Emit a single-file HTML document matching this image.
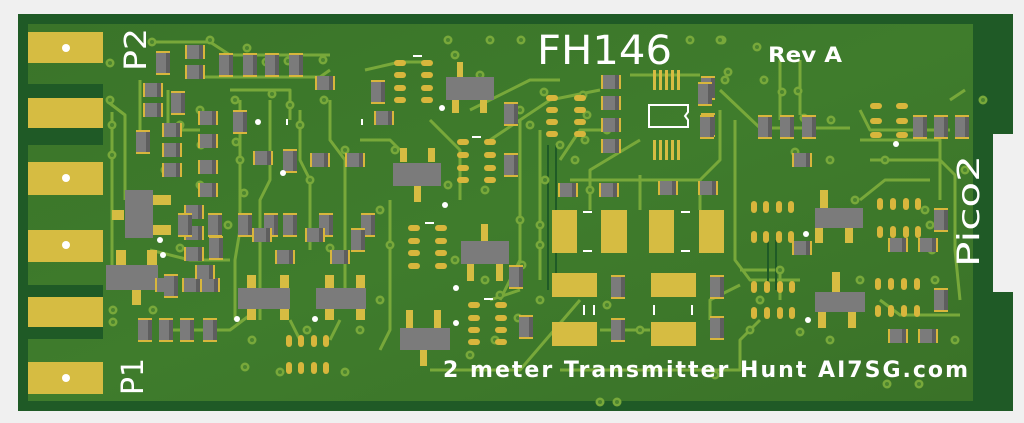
<!DOCTYPE html>
<html><head><meta charset="utf-8"><style>
html,body{margin:0;padding:0;background:#f0f0f0;width:1024px;height:423px;overflow:hidden}
svg{display:block}
.t{font-family:"DejaVu Sans","Liberation Sans",sans-serif;fill:#fff}
</style></head><body>
<svg width="1024" height="423" viewBox="0 0 1024 423" xmlns="http://www.w3.org/2000/svg">
<defs>
<linearGradient id="bg" x1="0" y1="0" x2="1" y2="1">
<stop offset="0" stop-color="#3a7429"/><stop offset="0.5" stop-color="#3f7c2c"/><stop offset="1" stop-color="#3a7228"/></linearGradient>
<g id="rh"><rect x="-10" y="-7" width="20" height="14" fill="#d8b63c"/><rect x="-8" y="-7" width="16" height="14" fill="#7b7b7b"/><rect x="4" y="-7" width="4" height="14" fill="#5e5e5e"/></g>
<g id="rv"><rect x="-7" y="-12" width="14" height="24" fill="#d8b63c"/><rect x="-7" y="-10" width="14" height="20" fill="#7b7b7b"/><rect x="3" y="-10" width="4" height="20" fill="#5e5e5e"/></g>
<g id="v"><circle r="4.5" fill="#78a83a"/><circle r="2" fill="#4c8530"/></g>
<g id="ov"><rect x="-6" y="-3" width="12" height="6" rx="3" fill="#d8b63c"/></g>
<g id="ovv"><rect x="-3" y="-6" width="6" height="12" rx="3" fill="#d8b63c"/></g>
</defs>
<path d="M18 14 H1013 V134 H993 V292 H1013 V411 H18 Z" fill="#1f5a26"/>
<rect x="28" y="24" width="945" height="377" fill="url(#bg)"/>
<rect x="28" y="84" width="75" height="61" fill="#1f5a26"/>
<rect x="28" y="285" width="75" height="54" fill="#1f5a26"/>
<g fill="#d6bc42">
<rect x="28" y="32" width="75" height="31"/>
<rect x="28" y="98" width="75" height="30"/>
<rect x="28" y="162" width="75" height="33"/>
<rect x="28" y="230" width="75" height="32"/>
<rect x="28" y="297" width="75" height="30"/>
<rect x="28" y="362" width="75" height="32"/>
</g>
<g fill="#fff"><circle cx="66" cy="48" r="4"/><circle cx="66" cy="178" r="4"/><circle cx="66" cy="245" r="4"/><circle cx="66" cy="378" r="4"/></g>
<g stroke="#78a83a" stroke-width="3" fill="none" stroke-linejoin="round">
<path d="M150 42 H210 L230 55 H330"/>
<path d="M205 77 H320 L330 70"/>
<path d="M108 102 L125 115 V200"/>
<path d="M112 112 V270"/>
<path d="M140 80 V140"/>
<path d="M168 90 V130 H200"/>
<path d="M230 90 H290 V120"/>
<path d="M270 100 V180 L260 200 V320"/>
<path d="M240 100 V230 L235 260 V320"/>
<path d="M300 110 V160 L310 180 V250"/>
<path d="M330 100 V140 L345 160 V290"/>
<path d="M365 70 L400 62 H430"/>
<path d="M360 140 H390 L400 150"/>
<path d="M390 200 V330 L380 350"/>
<path d="M430 120 L460 150 V200"/>
<path d="M470 110 L530 80 H560"/>
<path d="M490 140 L550 100 L600 90"/>
<path d="M520 120 V260 L500 300"/>
<path d="M540 130 V280"/>
<path d="M560 160 L580 130 H620"/>
<path d="M570 180 H700 L720 160 V110"/>
<path d="M590 210 V170 L640 140"/>
<path d="M640 210 V175"/>
<path d="M700 210 V180"/>
<path d="M720 90 L760 128 H850"/>
<path d="M735 120 V260 L750 280 H800"/>
<path d="M780 60 V120"/>
<path d="M800 60 V115"/>
<path d="M860 110 L870 130 H950"/>
<path d="M860 140 H940 V200"/>
<path d="M870 160 H940 L955 175 V250 L960 300"/>
<path d="M740 270 H780 V300"/>
<path d="M760 320 L740 340 V370 L560 370"/>
<path d="M430 370 L520 370 L580 300"/>
<path d="M600 330 H650"/>
<path d="M710 320 V300 L740 285"/>
<path d="M150 250 L190 260 H230"/>
<path d="M160 330 H230 L250 315"/>
<path d="M290 320 L300 340"/>
<path d="M340 320 L330 340"/>
<path d="M860 200 L885 180 H930"/>
<path d="M880 300 L900 315 H960"/>
<path d="M950 100 L965 90"/>
<path d="M630 75 H700"/>
<path d="M490 300 L520 290"/>
</g>
<g stroke="#1f5a26" stroke-width="2" fill="none">
<path d="M548 145 V290"/><path d="M556 145 V290"/><path d="M768 240 V290"/><path d="M776 240 V290"/>
</g>
<g>
<use href="#v" x="110" y="63"/><use href="#v" x="152" y="42"/><use href="#v" x="210" y="40"/><use href="#v" x="247" y="48"/><use href="#v" x="266" y="62"/>
<use href="#v" x="288" y="61"/><use href="#v" x="323" y="60"/><use href="#v" x="110" y="100"/><use href="#v" x="112" y="125"/><use href="#v" x="112" y="155"/>
<use href="#v" x="200" y="110"/><use href="#v" x="180" y="125"/><use href="#v" x="235" y="100"/><use href="#v" x="272" y="94"/><use href="#v" x="290" y="105"/>
<use href="#v" x="236" y="142"/><use href="#v" x="201" y="145"/><use href="#v" x="240" y="160"/><use href="#v" x="300" y="125"/><use href="#v" x="324" y="100"/>
<use href="#v" x="200" y="185"/><use href="#v" x="228" y="225"/><use href="#v" x="244" y="193"/><use href="#v" x="310" y="180"/><use href="#v" x="345" y="150"/>
<use href="#v" x="380" y="210"/><use href="#v" x="390" y="245"/><use href="#v" x="380" y="300"/><use href="#v" x="360" y="330"/><use href="#v" x="330" y="248"/>
<use href="#v" x="252" y="340"/><use href="#v" x="307" y="330"/><use href="#v" x="345" y="372"/><use href="#v" x="280" y="372"/><use href="#v" x="245" y="367"/>
<use href="#v" x="113" y="310"/><use href="#v" x="113" y="322"/><use href="#v" x="153" y="310"/><use href="#v" x="180" y="248"/><use href="#v" x="165" y="170"/>
<use href="#v" x="448" y="40"/><use href="#v" x="490" y="40"/><use href="#v" x="521" y="40"/><use href="#v" x="690" y="40"/><use href="#v" x="722" y="40"/>
<use href="#v" x="544" y="92"/><use href="#v" x="520" y="110"/><use href="#v" x="530" y="125"/><use href="#v" x="560" y="145"/><use href="#v" x="575" y="160"/>
<use href="#v" x="607" y="130"/><use href="#v" x="615" y="80"/><use href="#v" x="587" y="115"/><use href="#v" x="583" y="95"/><use href="#v" x="590" y="190"/>
<use href="#v" x="545" y="180"/><use href="#v" x="520" y="220"/><use href="#v" x="540" y="225"/><use href="#v" x="522" y="265"/><use href="#v" x="540" y="245"/>
<use href="#v" x="500" y="295"/><use href="#v" x="518" y="318"/><use href="#v" x="495" y="340"/><use href="#v" x="585" y="140"/><use href="#v" x="728" y="72"/>
<use href="#v" x="757" y="47"/><use href="#v" x="720" y="40"/><use href="#v" x="725" y="80"/><use href="#v" x="764" y="80"/><use href="#v" x="782" y="92"/>
<use href="#v" x="798" y="91"/><use href="#v" x="804" y="118"/><use href="#v" x="831" y="120"/><use href="#v" x="795" y="152"/><use href="#v" x="830" y="160"/>
<use href="#v" x="885" y="160"/><use href="#v" x="855" y="200"/><use href="#v" x="925" y="210"/><use href="#v" x="932" y="250"/><use href="#v" x="935" y="280"/>
<use href="#v" x="940" y="300"/><use href="#v" x="955" y="340"/><use href="#v" x="983" y="100"/><use href="#v" x="965" y="170"/><use href="#v" x="930" y="225"/>
<use href="#v" x="860" y="280"/><use href="#v" x="760" y="300"/><use href="#v" x="780" y="270"/><use href="#v" x="800" y="332"/><use href="#v" x="830" y="340"/>
<use href="#v" x="750" y="330"/><use href="#v" x="715" y="375"/><use href="#v" x="718" y="280"/><use href="#v" x="607" y="305"/><use href="#v" x="640" y="330"/>
<use href="#v" x="690" y="330"/><use href="#v" x="600" y="402"/><use href="#v" x="617" y="402"/><use href="#v" x="887" y="384"/><use href="#v" x="919" y="384"/>
<use href="#v" x="455" y="55"/><use href="#v" x="480" y="75"/><use href="#v" x="395" y="150"/><use href="#v" x="448" y="185"/><use href="#v" x="485" y="190"/>
<use href="#v" x="455" y="260"/><use href="#v" x="485" y="280"/><use href="#v" x="540" y="300"/><use href="#v" x="470" y="355"/><use href="#v" x="560" y="290"/>
</g>
<g fill="#d6bc42">
<rect x="552" y="210" width="25" height="43"/><rect x="601" y="210" width="26" height="43"/><rect x="649" y="210" width="25" height="43"/><rect x="699" y="210" width="25" height="43"/>
<rect x="552" y="273" width="45" height="24"/><rect x="552" y="322" width="45" height="24"/><rect x="651" y="273" width="45" height="24"/><rect x="651" y="322" width="45" height="24"/>
</g>
<g>
<rect x="457" y="62" width="6" height="20" fill="#d6bc42"/><rect x="452" y="99" width="7" height="14" fill="#d6bc42"/><rect x="480" y="99" width="7" height="14" fill="#d6bc42"/>
<rect x="446" y="77" width="48" height="23" fill="#7b7b7b"/>
<rect x="400" y="148" width="7" height="14" fill="#d6bc42"/><rect x="428" y="148" width="7" height="14" fill="#d6bc42"/><rect x="414" y="186" width="7" height="16" fill="#d6bc42"/>
<rect x="393" y="163" width="48" height="23" fill="#7b7b7b"/>
<rect x="481" y="224" width="7" height="17" fill="#d6bc42"/><rect x="467" y="264" width="7" height="17" fill="#d6bc42"/><rect x="496" y="264" width="7" height="17" fill="#d6bc42"/>
<rect x="461" y="241" width="48" height="23" fill="#7b7b7b"/>
<rect x="406" y="310" width="7" height="18" fill="#d6bc42"/><rect x="434" y="310" width="7" height="18" fill="#d6bc42"/><rect x="420" y="350" width="7" height="16" fill="#d6bc42"/>
<rect x="400" y="328" width="50" height="22" fill="#7b7b7b"/>
<rect x="247" y="275" width="9" height="14" fill="#d6bc42"/><rect x="280" y="275" width="9" height="14" fill="#d6bc42"/><rect x="247" y="308" width="9" height="12" fill="#d6bc42"/><rect x="280" y="308" width="9" height="12" fill="#d6bc42"/>
<rect x="238" y="288" width="52" height="21" fill="#7b7b7b"/>
<rect x="325" y="275" width="9" height="14" fill="#d6bc42"/><rect x="356" y="275" width="9" height="14" fill="#d6bc42"/><rect x="325" y="308" width="9" height="12" fill="#d6bc42"/><rect x="356" y="308" width="9" height="12" fill="#d6bc42"/>
<rect x="316" y="288" width="50" height="21" fill="#7b7b7b"/>
<rect x="116" y="250" width="10" height="15" fill="#d6bc42"/><rect x="147" y="250" width="10" height="15" fill="#d6bc42"/><rect x="132" y="290" width="9" height="15" fill="#d6bc42"/>
<rect x="106" y="265" width="52" height="25" fill="#7b7b7b"/>
<rect x="153" y="195" width="18" height="10" fill="#d6bc42"/><rect x="153" y="225" width="18" height="10" fill="#d6bc42"/><rect x="112" y="210" width="12" height="10" fill="#d6bc42"/>
<rect x="125" y="190" width="28" height="48" fill="#7b7b7b"/>
<rect x="820" y="190" width="8" height="18" fill="#d6bc42"/><rect x="815" y="228" width="8" height="15" fill="#d6bc42"/><rect x="845" y="228" width="8" height="15" fill="#d6bc42"/>
<rect x="815" y="208" width="48" height="20" fill="#7b7b7b"/>
<rect x="832" y="272" width="8" height="20" fill="#d6bc42"/><rect x="818" y="312" width="8" height="16" fill="#d6bc42"/><rect x="848" y="312" width="8" height="16" fill="#d6bc42"/>
<rect x="815" y="292" width="50" height="20" fill="#7b7b7b"/>
</g>
<g>
<use href="#ov" x="400" y="63"/><use href="#ov" x="400" y="75"/><use href="#ov" x="400" y="88"/><use href="#ov" x="400" y="100"/>
<use href="#ov" x="427" y="63"/><use href="#ov" x="427" y="75"/><use href="#ov" x="427" y="88"/><use href="#ov" x="427" y="100"/>
<use href="#ov" x="463" y="142"/><use href="#ov" x="463" y="155"/><use href="#ov" x="463" y="168"/><use href="#ov" x="463" y="180"/>
<use href="#ov" x="490" y="142"/><use href="#ov" x="490" y="155"/><use href="#ov" x="490" y="168"/><use href="#ov" x="490" y="180"/>
<use href="#ov" x="414" y="228"/><use href="#ov" x="414" y="241"/><use href="#ov" x="414" y="253"/><use href="#ov" x="414" y="266"/>
<use href="#ov" x="441" y="228"/><use href="#ov" x="441" y="241"/><use href="#ov" x="441" y="253"/><use href="#ov" x="441" y="266"/>
<use href="#ov" x="474" y="305"/><use href="#ov" x="474" y="318"/><use href="#ov" x="474" y="330"/><use href="#ov" x="474" y="342"/>
<use href="#ov" x="501" y="305"/><use href="#ov" x="501" y="318"/><use href="#ov" x="501" y="330"/><use href="#ov" x="501" y="342"/>
<use href="#ov" x="552" y="98"/><use href="#ov" x="552" y="110"/><use href="#ov" x="552" y="122"/><use href="#ov" x="552" y="134"/>
<use href="#ov" x="580" y="98"/><use href="#ov" x="580" y="110"/><use href="#ov" x="580" y="122"/><use href="#ov" x="580" y="134"/>
<use href="#ov" x="876" y="106"/><use href="#ov" x="876" y="121"/><use href="#ov" x="876" y="135"/><use href="#ov" x="902" y="106"/><use href="#ov" x="902" y="121"/><use href="#ov" x="902" y="135"/>
<use href="#ovv" x="754" y="207"/><use href="#ovv" x="766" y="207"/><use href="#ovv" x="779" y="207"/><use href="#ovv" x="791" y="207"/>
<use href="#ovv" x="754" y="237"/><use href="#ovv" x="766" y="237"/><use href="#ovv" x="779" y="237"/><use href="#ovv" x="791" y="237"/>
<use href="#ovv" x="880" y="204"/><use href="#ovv" x="893" y="204"/><use href="#ovv" x="906" y="204"/><use href="#ovv" x="918" y="204"/>
<use href="#ovv" x="880" y="232"/><use href="#ovv" x="893" y="232"/><use href="#ovv" x="906" y="232"/><use href="#ovv" x="918" y="232"/>
<use href="#ovv" x="754" y="287"/><use href="#ovv" x="767" y="287"/><use href="#ovv" x="780" y="287"/><use href="#ovv" x="792" y="287"/>
<use href="#ovv" x="754" y="313"/><use href="#ovv" x="767" y="313"/><use href="#ovv" x="780" y="313"/><use href="#ovv" x="792" y="313"/>
<use href="#ovv" x="878" y="284"/><use href="#ovv" x="891" y="284"/><use href="#ovv" x="904" y="284"/><use href="#ovv" x="917" y="284"/>
<use href="#ovv" x="878" y="311"/><use href="#ovv" x="891" y="311"/><use href="#ovv" x="904" y="311"/><use href="#ovv" x="917" y="311"/>
<use href="#ovv" x="289" y="341"/><use href="#ovv" x="301" y="341"/><use href="#ovv" x="314" y="341"/><use href="#ovv" x="326" y="341"/>
<use href="#ovv" x="289" y="368"/><use href="#ovv" x="301" y="368"/><use href="#ovv" x="314" y="368"/><use href="#ovv" x="326" y="368"/>
</g>
<g fill="#d6bc42">
<rect x="653" y="70" width="3" height="20"/><rect x="659" y="70" width="3" height="20"/><rect x="665" y="70" width="3" height="20"/><rect x="671" y="70" width="3" height="20"/><rect x="677" y="70" width="3" height="20"/>
<rect x="653" y="140" width="3" height="20"/><rect x="659" y="140" width="3" height="20"/><rect x="665" y="140" width="3" height="20"/><rect x="671" y="140" width="3" height="20"/><rect x="677" y="140" width="3" height="20"/>
</g>
<path d="M649 105 H688 V112 L685 116 L688 120 V127 H649 Z" fill="none" stroke="#fff" stroke-width="2"/>
<g>
<use href="#rv" x="163" y="63"/><use href="#rh" x="195" y="52"/><use href="#rh" x="195" y="72"/>
<use href="#rv" x="226" y="65"/><use href="#rv" x="250" y="65"/><use href="#rv" x="272" y="65"/><use href="#rv" x="296" y="65"/>
<use href="#rh" x="325" y="83"/><use href="#rh" x="153" y="90"/><use href="#rh" x="153" y="110"/><use href="#rv" x="178" y="103"/>
<use href="#rh" x="172" y="130"/><use href="#rh" x="172" y="150"/><use href="#rh" x="172" y="170"/><use href="#rv" x="143" y="142"/>
<use href="#rh" x="208" y="118"/><use href="#rh" x="208" y="141"/><use href="#rh" x="208" y="167"/><use href="#rh" x="208" y="190"/>
<use href="#rv" x="240" y="122"/><use href="#rh" x="263" y="158"/><use href="#rv" x="290" y="161"/>
<use href="#rh" x="320" y="160"/><use href="#rh" x="355" y="160"/><use href="#rv" x="378" y="92"/><use href="#rh" x="384" y="118"/>
<use href="#rh" x="194" y="212"/><use href="#rh" x="194" y="233"/><use href="#rh" x="194" y="254"/><use href="#rv" x="216" y="248"/>
<use href="#rv" x="185" y="225"/><use href="#rv" x="215" y="225"/>
<use href="#rh" x="165" y="285"/><use href="#rh" x="192" y="285"/><use href="#rh" x="210" y="285"/>
<use href="#rv" x="245" y="225"/><use href="#rv" x="271" y="225"/><use href="#rh" x="262" y="235"/><use href="#rh" x="285" y="257"/>
<use href="#rv" x="290" y="225"/><use href="#rv" x="326" y="225"/><use href="#rh" x="315" y="235"/><use href="#rh" x="340" y="257"/><use href="#rv" x="368" y="225"/><use href="#rv" x="358" y="240"/>
<use href="#rv" x="145" y="330"/><use href="#rv" x="166" y="330"/><use href="#rv" x="187" y="330"/><use href="#rv" x="210" y="330"/>
<use href="#rh" x="205" y="272"/><use href="#rv" x="171" y="286"/>
<use href="#rv" x="511" y="114"/><use href="#rv" x="511" y="165"/><use href="#rv" x="516" y="277"/><use href="#rv" x="526" y="327"/>
<use href="#rh" x="611" y="82"/><use href="#rh" x="611" y="103"/><use href="#rh" x="611" y="125"/><use href="#rh" x="611" y="146"/>
<use href="#rh" x="568" y="190"/><use href="#rh" x="609" y="190"/><use href="#rh" x="668" y="188"/><use href="#rh" x="708" y="188"/>
<use href="#rv" x="708" y="88"/><use href="#rv" x="708" y="125"/><use href="#rv" x="618" y="287"/><use href="#rv" x="618" y="330"/>
<use href="#rv" x="717" y="287"/><use href="#rv" x="717" y="328"/>
<use href="#rv" x="705" y="94"/><use href="#rv" x="765" y="127"/><use href="#rv" x="787" y="127"/><use href="#rv" x="809" y="127"/><use href="#rv" x="707" y="127"/>
<use href="#rh" x="802" y="160"/><use href="#rv" x="920" y="127"/><use href="#rv" x="941" y="127"/><use href="#rv" x="962" y="127"/>
<use href="#rh" x="898" y="245"/><use href="#rh" x="928" y="245"/><use href="#rh" x="898" y="336"/><use href="#rh" x="928" y="336"/>
<use href="#rv" x="941" y="220"/><use href="#rv" x="941" y="300"/><use href="#rh" x="802" y="248"/>
</g>
<g fill="#fff">
<circle cx="258" cy="122" r="3"/><circle cx="283" cy="173" r="3"/><circle cx="160" cy="240" r="3"/><circle cx="163" cy="255" r="3"/>
<circle cx="237" cy="319" r="3"/><circle cx="315" cy="319" r="3"/><circle cx="442" cy="108" r="3"/><circle cx="445" cy="205" r="3"/>
<circle cx="456" cy="288" r="3"/><circle cx="456" cy="323" r="3"/><circle cx="896" cy="144" r="3"/><circle cx="806" cy="234" r="3"/><circle cx="808" cy="320" r="3"/>
<rect x="413" y="55" width="9" height="2"/><rect x="472" y="136" width="9" height="2"/><rect x="425" y="222" width="9" height="2"/><rect x="484" y="298" width="9" height="2"/>
<rect x="583" y="211" width="9" height="2"/><rect x="583" y="250" width="9" height="2"/><rect x="681" y="211" width="9" height="2"/><rect x="681" y="250" width="9" height="2"/>
<rect x="583" y="305" width="2" height="10"/><rect x="593" y="305" width="2" height="10"/><rect x="653" y="305" width="2" height="10"/><rect x="691" y="305" width="2" height="10"/>
<rect x="286" y="119" width="2" height="6"/><rect x="361" y="119" width="2" height="6"/>
</g>
<text class="t" x="537" y="64" font-size="40" textLength="135" lengthAdjust="spacingAndGlyphs">FH146</text>
<text class="t" x="768" y="62" font-size="21" font-weight="bold" textLength="74" lengthAdjust="spacingAndGlyphs">Rev A</text>
<text class="t" x="443" y="377" font-size="22" font-weight="bold" textLength="525" lengthAdjust="spacing">2 meter Transmitter Hunt AI7SG.com</text>
<text class="t" font-size="30" transform="translate(146 71) rotate(-90)" textLength="43" lengthAdjust="spacingAndGlyphs">P2</text>
<text class="t" font-size="30" transform="translate(143 395) rotate(-90)" textLength="37" lengthAdjust="spacingAndGlyphs">P1</text>
<text class="t" font-size="30" transform="translate(979 267) rotate(-90)" textLength="112" lengthAdjust="spacingAndGlyphs">Pico2</text>
</svg>
</body></html>
